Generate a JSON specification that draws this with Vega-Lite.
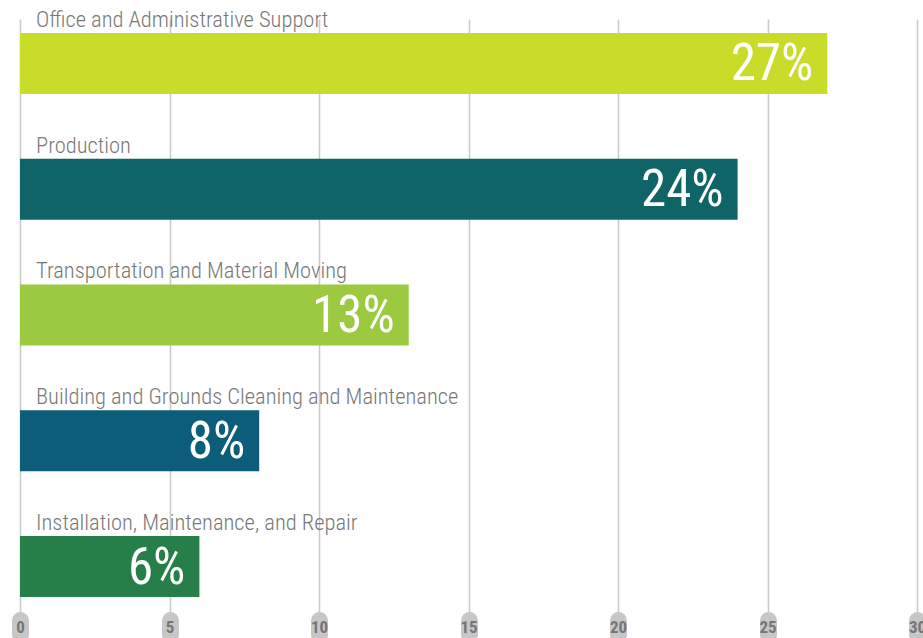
{
  "$schema": "https://vega.github.io/schema/vega-lite/v6.json",
  "width": 897,
  "height": 601,
  "autosize": {"type": "none"},
  "padding": {"left": 20, "right": 6, "top": 19, "bottom": 18},
  "background": "white",
  "config": {"view": {"stroke": null}},
  "data": {"values": [
    {"category": "Office and Administrative Support", "pct": 27, "label": "27%", "color": "#C9DC2A"},
    {"category": "Production", "pct": 24, "label": "24%", "color": "#0F6468"},
    {"category": "Transportation and Material Moving", "pct": 13, "label": "13%", "color": "#9BC93F"},
    {"category": "Building and Grounds Cleaning and Maintenance", "pct": 8, "label": "8%", "color": "#0B5D7A"},
    {"category": "Installation, Maintenance, and Repair", "pct": 6, "label": "6%", "color": "#267E48"}
  ]},
  "encoding": {
    "y": {"field": "category", "type": "nominal", "sort": null, "axis": null,
      "scale": {"paddingInner": 0.515, "paddingOuter": 0.147, "align": 0.378}}
  },
  "layer": [
    {
      "mark": {"type": "bar"},
      "encoding": {
        "x": {"field": "pct", "type": "quantitative",
          "scale": {"domain": [0, 30], "nice": false, "zero": true},
          "axis": {
            "values": [0, 5, 10, 15, 20, 25, 30],
            "title": null,
            "domain": false,
            "grid": true, "gridColor": "#cbcbcb", "gridWidth": 1.6,
            "ticks": true, "tickColor": "#c7c7c8", "tickWidth": 17, "tickSize": 14, "tickCap": "round",
            "labelFont": "Roboto Condensed", "labelFontWeight": "bold", "labelFontSize": 17,
            "labelColor": "#767676", "labelBaseline": "middle", "labelPadding": -7,
            "labelFlush": false, "labelOverlap": false
          }},
        "color": {"field": "color", "type": "nominal", "scale": null, "legend": null}
      }
    },
    {
      "mark": {"type": "text", "align": "left", "baseline": "alphabetic", "dx": 16, "dy": -36.5,
        "font": "Roboto Condensed", "fontWeight": 300, "fontSize": 22.5, "fill": "#787878"},
      "encoding": {
        "x": {"datum": 0, "type": "quantitative"},
        "text": {"field": "category"}
      }
    },
    {
      "mark": {"type": "text", "align": "right", "baseline": "middle", "dx": -14, "dy": 2,
        "font": "Roboto Condensed", "fontWeight": 400, "fontSize": 51, "fill": "white"},
      "encoding": {
        "x": {"field": "pct", "type": "quantitative"},
        "text": {"field": "label"}
      }
    }
  ]
}
